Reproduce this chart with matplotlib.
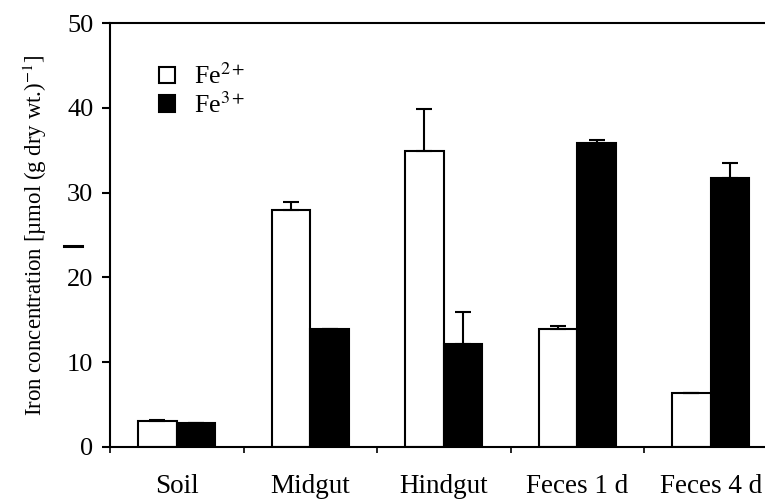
import numpy as np
import matplotlib
matplotlib.use('Agg')
import matplotlib.pyplot as plt
from matplotlib.lines import Line2D

plt.rcParams['font.family'] = ['Liberation Serif', 'DejaVu Serif']
plt.rcParams['mathtext.fontset'] = 'stix'

categories = ['Soil', 'Midgut', 'Hindgut', 'Feces 1 d', 'Feces 4 d']
fe2 = [3.0, 28.0, 34.9, 13.9, 6.4]
fe2_err = [0.1, 0.9, 5.0, 0.3, 0.0]
fe3 = [2.8, 13.9, 12.1, 35.9, 31.7]
fe3_err = [0.0, 0.0, 3.8, 0.3, 1.8]

fig = plt.figure(figsize=(7.65, 5.0), dpi=100)
ax = fig.add_axes([110/765, 1-446.7/500, 667.5/765, 423.4/500])

x = np.arange(len(categories))
w = 0.29
err_kw = dict(ecolor='black', elinewidth=1.5, capsize=6, capthick=1.5)
ax.bar(x - w/2, fe2, w, color='white', edgecolor='black', linewidth=1.5,
       yerr=[np.zeros(5), fe2_err], error_kw=err_kw, label='Fe$^{2+}$')
ax.bar(x + w/2, fe3, w, color='black', edgecolor='black', linewidth=1.5,
       yerr=[np.zeros(5), fe3_err], error_kw=err_kw, label='Fe$^{3+}$')

ax.set_xlim(-0.5, 4.5)
ax.set_ylim(0, 50)
ax.set_yticks([0, 10, 20, 30, 40, 50])
ax.tick_params(axis='y', direction='out', length=6, width=1.5, pad=6, labelsize=19)

ax.set_xticks(x)
ax.set_xticklabels(categories)
ax.tick_params(axis='x', which='major', length=0, pad=20, labelsize=19.5)
ax.set_xticks(np.arange(-0.5, 4.5, 1.0), minor=True)
ax.tick_params(axis='x', which='minor', direction='out', length=4, width=1.2)

for s in ax.spines.values():
    s.set_linewidth(1.5)

ax.set_ylabel('Iron concentration [µmol (g dry wt.)$^{-1}$]', fontsize=16.5, labelpad=13)

ax.legend(loc='upper left', bbox_to_anchor=(0.058, 0.93), frameon=False,
          fontsize=18.5, handlelength=0.62, handleheight=0.62,
          handletextpad=0.75, labelspacing=0.12, borderaxespad=0)

# stray dash on the left edge of the original figure
fig.add_artist(Line2D([64/765, 82/765], [1-246/500, 1-246/500], color='black', lw=2.2))

fig.savefig('out.png', dpi=100, facecolor='white')
